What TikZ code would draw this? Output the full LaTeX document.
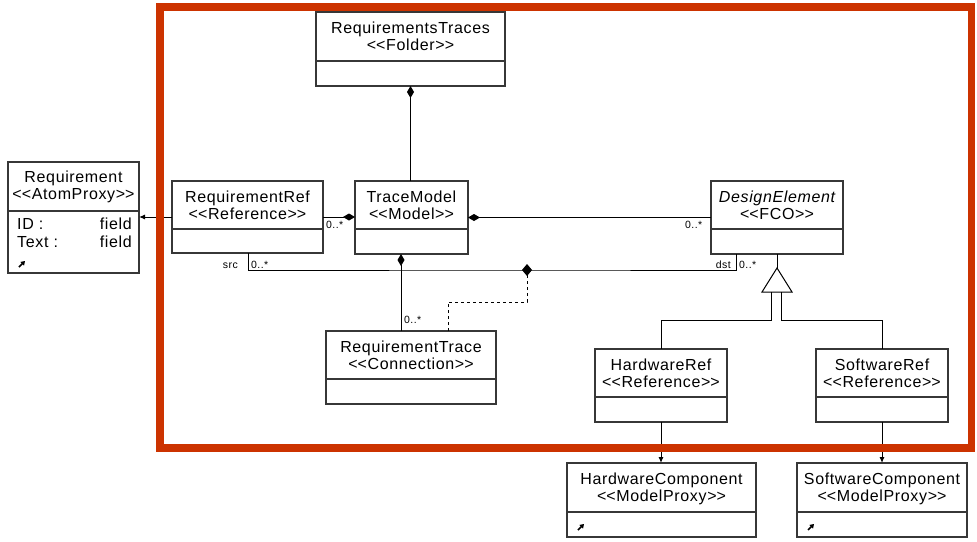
\documentclass[tikz,border=0pt]{standalone}
\usepackage{fontspec}
\setmainfont[LetterSpace=4]{Liberation Sans}
\usepackage{xcolor}
\usepackage{tikz}
\usetikzlibrary{arrows.meta, calc}
\definecolor{frameorange}{RGB}{204, 51, 0}
\definecolor{umlgray}{RGB}{55, 55, 55}
\newcommand{\stereo}[1]{<\kern0pt<#1>\kern0pt>}

\tikzset{
  classbox/.style={draw=umlgray, line width=1.2pt, inner sep=0pt, outer sep=0pt},
  classsep/.style={draw=umlgray, line width=1.2pt},
  classtitle/.style={anchor=base, inner sep=0pt, font=\fontsize{16}{19}\selectfont},
  fieldtext/.style={inner sep=0pt, font=\fontsize{16}{19}\selectfont},
  mult/.style={inner sep=0pt, font=\fontsize{10.5}{12}\selectfont},
  link/.style={line width=1pt},
  proxyarrow/.style={line width=1.6pt, -{Triangle[length=4pt,width=5pt]}},
}

\begin{document}
\begin{tikzpicture}[x=1pt, y=-1pt]
\useasboundingbox (0,0) rectangle (977,541);
% classes
\node[classbox, minimum width=131pt, minimum height=111pt] (req) at (73.5,217.5) {};
\draw[classsep] ([yshift=-49pt]req.north west) -- ([yshift=-49pt]req.north east);
\node[classtitle] (reqname) at ([yshift=-20pt]req.north) {Requirement};
\node[classtitle] (reqstereo) at ([yshift=-37pt]req.north) {\stereo{AtomProxy}};
\node[fieldtext, anchor=base west] (reqid) at (17,229) {ID :};
\node[fieldtext, anchor=base east] (reqidval) at (132,229) {field};
\node[fieldtext, anchor=base west] (reqtext) at (17,247) {Text :};
\node[fieldtext, anchor=base east] (reqtextval) at (132,247) {field};
\draw[proxyarrow] (19,267) -- (25,261);

\node[classbox, minimum width=151pt, minimum height=72pt] (reqref) at (247.5,217) {};
\draw[classsep] ([yshift=-48pt]reqref.north west) -- ([yshift=-48pt]reqref.north east);
\node[classtitle] (reqrefname) at ([yshift=-21pt]reqref.north) {RequirementRef};
\node[classtitle] (reqrefstereo) at ([yshift=-38pt]reqref.north) {\stereo{Reference}};

\node[classbox, minimum width=113pt, minimum height=73pt] (tracemodel) at (411.5,217.5) {};
\draw[classsep] ([yshift=-48pt]tracemodel.north west) -- ([yshift=-48pt]tracemodel.north east);
\node[classtitle] (tracemodelname) at ([yshift=-21pt]tracemodel.north) {TraceModel};
\node[classtitle] (tracemodelstereo) at ([yshift=-38pt]tracemodel.north) {\stereo{Model}};

\node[classbox, minimum width=132pt, minimum height=73pt] (design) at (777,217.5) {};
\draw[classsep] ([yshift=-48pt]design.north west) -- ([yshift=-48pt]design.north east);
\node[classtitle, font=\fontsize{16}{19}\selectfont\itshape] (designname) at ([yshift=-21pt]design.north) {DesignElement};
\node[classtitle] (designstereo) at ([yshift=-38pt]design.north) {\stereo{FCO}};

\node[classbox, minimum width=189pt, minimum height=74pt] (traces) at (410.5,49) {};
\draw[classsep] ([yshift=-49pt]traces.north west) -- ([yshift=-49pt]traces.north east);
\node[classtitle] (tracesname) at ([yshift=-21pt]traces.north) {RequirementsTraces};
\node[classtitle] (tracesstereo) at ([yshift=-38pt]traces.north) {\stereo{Folder}};

\node[classbox, minimum width=170pt, minimum height=73pt] (trace) at (411,367.5) {};
\draw[classsep] ([yshift=-48pt]trace.north west) -- ([yshift=-48pt]trace.north east);
\node[classtitle] (tracename) at ([yshift=-21pt]trace.north) {RequirementTrace};
\node[classtitle] (tracestereo) at ([yshift=-38pt]trace.north) {\stereo{Connection}};

\node[classbox, minimum width=132pt, minimum height=73pt] (hwref) at (661,385.5) {};
\draw[classsep] ([yshift=-48pt]hwref.north west) -- ([yshift=-48pt]hwref.north east);
\node[classtitle] (hwrefname) at ([yshift=-21pt]hwref.north) {HardwareRef};
\node[classtitle] (hwrefstereo) at ([yshift=-38pt]hwref.north) {\stereo{Reference}};

\node[classbox, minimum width=132pt, minimum height=73pt] (swref) at (882,385.5) {};
\draw[classsep] ([yshift=-48pt]swref.north west) -- ([yshift=-48pt]swref.north east);
\node[classtitle] (swrefname) at ([yshift=-21pt]swref.north) {SoftwareRef};
\node[classtitle] (swrefstereo) at ([yshift=-38pt]swref.north) {\stereo{Reference}};

\node[classbox, minimum width=189pt, minimum height=74pt] (hwcomp) at (661.5,500) {};
\draw[classsep] ([yshift=-49pt]hwcomp.north west) -- ([yshift=-49pt]hwcomp.north east);
\node[classtitle] (hwcompname) at ([yshift=-21pt]hwcomp.north) {HardwareComponent};
\node[classtitle] (hwcompstereo) at ([yshift=-38pt]hwcomp.north) {\stereo{ModelProxy}};
\draw[proxyarrow] (578,530) -- (584,524);

\node[classbox, minimum width=170pt, minimum height=74pt] (swcomp) at (882,500) {};
\draw[classsep] ([yshift=-49pt]swcomp.north west) -- ([yshift=-49pt]swcomp.north east);
\node[classtitle] (swcompname) at ([yshift=-21pt]swcomp.north) {SoftwareComponent};
\node[classtitle] (swcompstereo) at ([yshift=-38pt]swcomp.north) {\stereo{ModelProxy}};
\draw[proxyarrow] (808,530) -- (814,524);

% containment and references
\draw[link, -{Latex[length=6pt,width=5pt]}] (reqref.west) -- (req.east |- reqref.west);
\draw[link, -{Diamond[length=12pt,width=7pt]}] (reqref.east) -- (tracemodel.west |- reqref.east);
\draw[link, {Diamond[length=12pt,width=7pt]}-] (tracemodel.east) -- (design.west |- tracemodel.east);
\draw[link, {Diamond[length=12pt,width=7pt]}-] (traces.south) -- (tracemodel.north -| traces.south);
\coordinate (tmfoot) at ([xshift=-10.5pt]tracemodel.south);
\draw[link, {Diamond[length=12pt,width=7pt]}-] (tmfoot) -- (trace.north -| tmfoot);
\node[mult, anchor=base west] (m1) at (326,228) {0..*};
\node[mult, anchor=base west] (m2) at (685,228) {0..*};
\node[mult, anchor=base west] (m3) at (404,323) {0..*};

% src/dst association
\coordinate (tracelink) at (527,270);
\draw[link] ([xshift=76pt]reqref.south west) |- (tracelink) -| ([xshift=25pt]design.south west);
\draw[link, dash pattern=on 3pt off 3pt, -{Diamond[length=12pt,width=10pt]}] ([xshift=37pt]trace.north) |- ([yshift=-32pt]tracelink) -- ([yshift=6pt]tracelink);
\node[mult, anchor=base east] (srclabel) at (238,268) {src};
\node[mult, anchor=base west] (srcmult) at (251,268) {0..*};
\node[mult, anchor=base east] (dstlabel) at (731,268) {dst};
\node[mult, anchor=base west] (dstmult) at (739,268) {0..*};

% inheritance
\coordinate (gentop) at ([yshift=-14pt]design.south);
\draw[link] (design.south) -- (gentop);
\draw[link, fill=white] (gentop) -- ++(15,24) -- ++(-30,0) -- cycle;
\draw[link] ([xshift=-6pt,yshift=-24pt]gentop) -- ++(0,28) -| (hwref.north);
\draw[link] ([xshift=4pt,yshift=-24pt]gentop) -- ++(0,28) -| (swref.north);

% proxies
\draw[link, -{Latex[length=6pt,width=5pt]}] (hwref.south) -- (hwcomp.north -| hwref.south);
\draw[link, -{Latex[length=6pt,width=5pt]}] (swref.south) -- (swcomp.north -| swref.south);

% frame
\draw[frameorange, line width=7.5pt] (160,7) rectangle (971.5,448);
\end{tikzpicture}
\end{document}
